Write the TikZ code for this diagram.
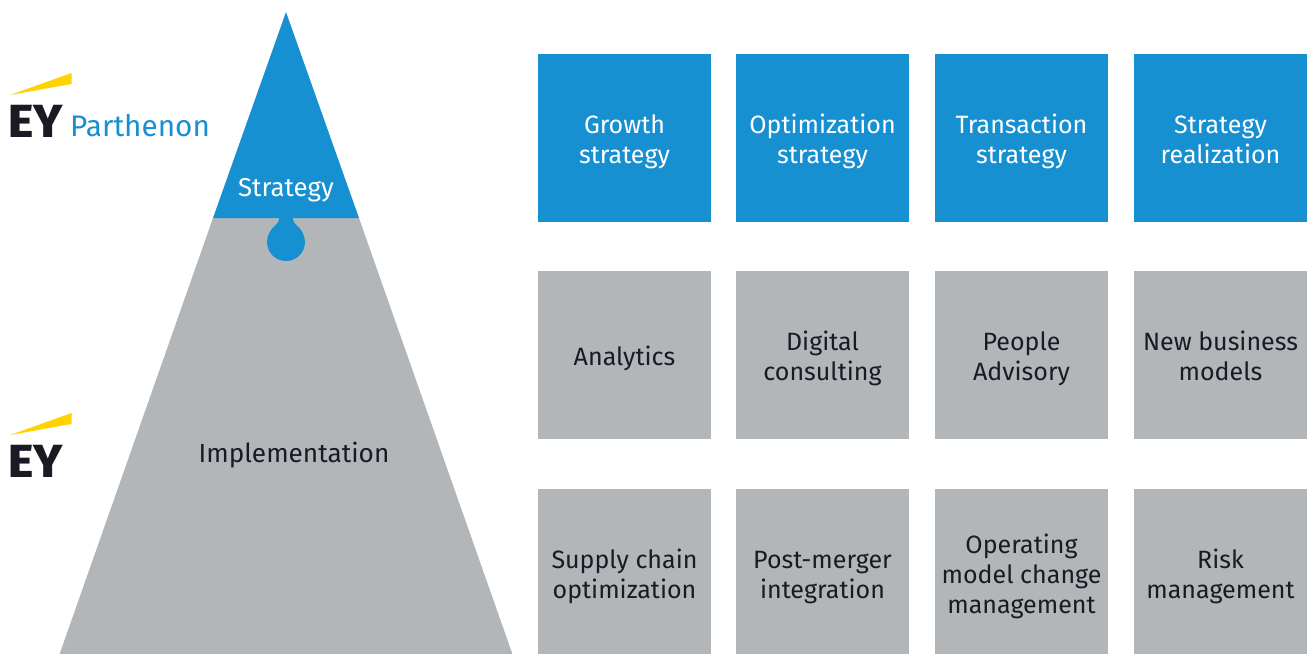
\documentclass[tikz,border=0pt]{standalone}
\usepackage{fontspec}
\setmainfont{Fira Sans}
\newfontfamily\eyfont[FakeStretch=1.04]{Fira Sans ExtraBold}
\definecolor{eyblue}{HTML}{1790D2}
\definecolor{eygray}{HTML}{B3B6B9}
\definecolor{eydark}{HTML}{1A1A24}
\definecolor{eyyellow}{HTML}{FFD200}
\newcommand{\tiletop}{\rule{0pt}{8.5pt}}
\tikzset{
    tile/.style={minimum width=1.73cm, minimum height=1.68cm, inner sep=0pt, align=center,
        font=\fontsize{7.12}{8.5}\selectfont},
    bluetile/.style={tile, fill=eyblue, text=white},
    graytile/.style={tile, fill=eygray, text=eydark},
    logo/.style={inner sep=0pt, anchor=base west, font=\fontsize{13.2}{14}\eyfont, text=eydark}
}
\begin{document}
\begin{tikzpicture}[x=0.01cm,y=-0.01cm]
        \useasboundingbox (0,0) rectangle (1309,653);
        \clip (0,0) rectangle (1309,653);

            % pyramid
            \fill[eygray] (213,218) -- (359,218) -- (514.5,660) -- (57.5,660) -- cycle;
            \fill[eyblue] (286,12) -- (359,218) -- (213,218) -- cycle;
            \fill[eyblue] (279,218) -- (293,218) .. controls (293,222) and (295,224) .. (297,225.5)
                .. controls (301,229) and (305,235) .. (305,242)
                .. controls (305,252) and (297,261) .. (286,261)
                .. controls (275,261) and (267,252) .. (267,242)
                .. controls (267,235) and (271,229) .. (275,225.5)
                .. controls (277,224) and (279,222) .. (279,218) -- cycle;
            \node[font=\fontsize{7.35}{8.5}\selectfont, text=white] (strategy) at (286,190) {Strategy};
            \node[font=\fontsize{7.45}{8.5}\selectfont, text=eydark] (implementation) at (294,455) {Implementation};

            % logos
            \fill[eyyellow] (10,95) -- (71.5,73) -- (71.5,84) -- cycle;
            \fill[eyyellow] (10,435) -- (71.5,413) -- (71.5,424) -- cycle;
            \node[logo] (eytop) at (7.5,137) {EY};
            \node[logo] (eybottom) at (7.5,477) {EY};
            \node[inner sep=0pt, anchor=base west, font=\fontsize{8.45}{10}\selectfont, text=eyblue] (parthenon) at (69.5,136) {Parthenon};

            % tiles
            \foreach \name/\x/\label in {growth/624.5/{Growth\\strategy}, optimization/822.5/{Optimization\\strategy},
                transaction/1021.5/{Transaction\\strategy}, realization/1220.5/{Strategy\\realization}} {
                \node[bluetile] (\name) at (\x,138) {\tiletop\label\strut};
            }
            \foreach \name/\x/\label in {analytics/624.5/{Analytics}, digital/822.5/{Digital\\consulting},
                people/1021.5/{People\\Advisory}, business/1220.5/{New business\\models}} {
                \node[graytile] (\name) at (\x,355) {\tiletop\label\strut};
            }
            \foreach \name/\x/\label in {supply/624.5/{Supply chain\\optimization}, merger/822.5/{Post-merger\\integration},
                operating/1021.5/{Operating\\model change\\management}, risk/1220.5/{Risk\\management}} {
                \node[graytile] (\name) at (\x,573) {\tiletop\label\strut};
            }
\end{tikzpicture}
\end{document}
